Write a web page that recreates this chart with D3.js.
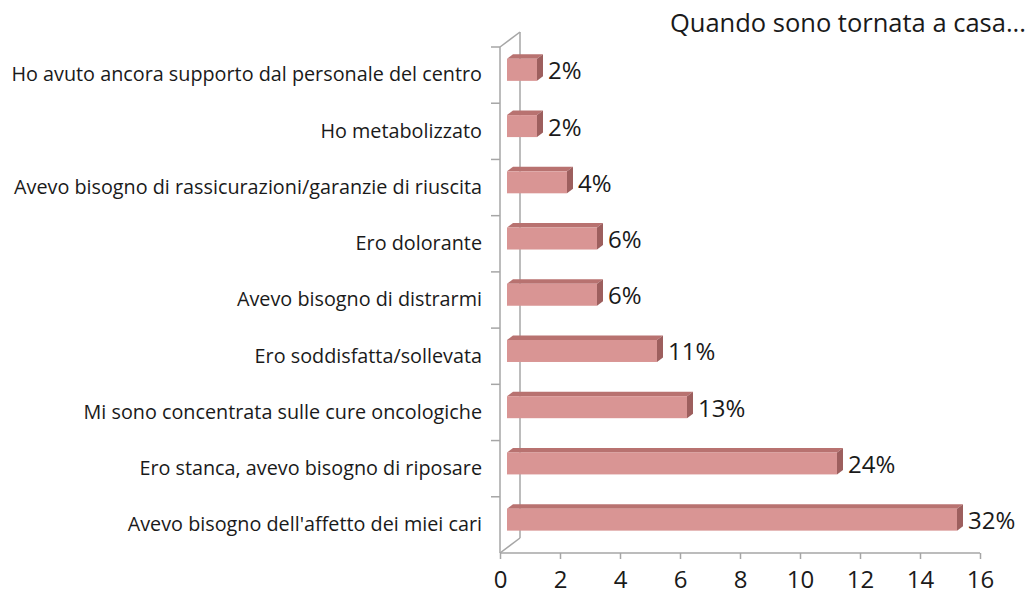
<!DOCTYPE html>
<html>
	<head>
		<meta charset="utf-8">
		<title></title>
		<script src="https://d3js.org/d3.v7.min.js"></script>
		<style>
			body { margin: 0; background: #fff; }
			text { font-family: "Open Sans", "Liberation Sans", sans-serif; fill: #1a1a1a; }
		</style>
	</head>
	<body>
		<div class="main_div"></div>
		<script>

			// Dati
			var categories = ["Ho avuto ancora supporto dal personale del centro", "Ho metabolizzato", "Avevo bisogno di rassicurazioni/garanzie di riuscita", "Ero dolorante", "Avevo bisogno di distrarmi", "Ero soddisfatta/sollevata", "Mi sono concentrata sulle cure oncologiche", "Ero stanca, avevo bisogno di riposare", "Avevo bisogno dell'affetto dei miei cari"];
			var values = [1, 1, 2, 3, 3, 5, 6, 11, 15];
			var percentLabels = ["2%", "2%", "4%", "6%", "6%", "11%", "13%", "24%", "32%"];
			var xTicks = [0, 2, 4, 6, 8, 10, 12, 14, 16];
			var title = "Quando sono tornata a casa...";

			var width = 1032, height = 598;
			var svg = d3.select(".main_div").append("svg")
				.attr("width", width).attr("height", height);

			// Scale
			var xScale = d3.scaleLinear().domain([0, 16]).range([500, 980]);
			var yScale = d3.scaleBand().domain(categories).range([47, 553]);

			// profondita' 3D
			var depthX = 20, depthY = -15;
			function px(v, d) { return xScale(v) + d * depthX; }
			function py(y, d) { return y + d * depthY; }

			var axisColor = "#a6a6a6";

			// pareti (linee)
			var wall = svg.append("g").attr("stroke", axisColor).attr("stroke-width", 1.5).attr("fill", "none");
			wall.append("line").attr("x1", px(0, 1)).attr("y1", py(47, 1)).attr("x2", px(0, 1)).attr("y2", py(553, 1));
			wall.append("line").attr("x1", px(0, 0)).attr("y1", 47).attr("x2", px(0, 1)).attr("y2", py(47, 1));
			wall.append("line").attr("x1", px(0, 0)).attr("y1", 553).attr("x2", px(0, 1)).attr("y2", py(553, 1));

			// barre 3D
			var d0 = 0.35, d1 = 0.65;
			var barH = 22;
			var bars = svg.selectAll("g.bar").data(values).enter().append("g").attr("class", "bar");
			function yTop(i) { return yScale(categories[i]) + yScale.bandwidth() / 2 - barH / 2; }

			// top
			bars.append("path").attr("fill", "#b87270")
				.attr("d", function(d, i) {
					var y = yTop(i);
					return "M" + px(0, d0) + "," + py(y, d0) + "L" + px(d, d0) + "," + py(y, d0) +
						"L" + px(d, d1) + "," + py(y, d1) + "L" + px(0, d1) + "," + py(y, d1) + "Z";
				});
			// lato
			bars.append("path").attr("fill", "#9d5f5e")
				.attr("d", function(d, i) {
					var y = yTop(i);
					return "M" + px(d, d0) + "," + py(y, d0) + "L" + px(d, d1) + "," + py(y, d1) +
						"L" + px(d, d1) + "," + py(y + barH, d1) + "L" + px(d, d0) + "," + py(y + barH, d0) + "Z";
				});
			// fronte
			bars.append("rect").attr("fill", "#d99594")
				.attr("x", function(d) { return px(0, d0); })
				.attr("y", function(d, i) { return py(yTop(i), d0); })
				.attr("width", function(d) { return xScale(d) - xScale(0); })
				.attr("height", barH);

			// etichette valori
			bars.append("text")
				.attr("x", function(d) { return px(d, d1) + 5; })
				.attr("y", function(d, i) { return py(yTop(i) + barH / 2, 0.35) + 3; })
				.attr("dominant-baseline", "middle")
				.style("font-size", "24px")
				.text(function(d, i) { return percentLabels[i]; });

			// assi
			var xAxis = d3.axisBottom(xScale).tickValues(xTicks).tickSize(6).tickPadding(12);
			var xg = svg.append("g").attr("transform", "translate(0,553)").call(xAxis);
			xg.select(".domain").attr("stroke", axisColor).attr("stroke-width", 1.5).attr("d", "M500,0H980");
			xg.selectAll(".tick line").attr("stroke", axisColor).attr("stroke-width", 1.5);
			xg.selectAll(".tick text").style("font-size", "24px").attr("fill", "#1a1a1a");

			var yAxis = d3.axisLeft(yScale).tickSize(0).tickPadding(18);
			var yg = svg.append("g").attr("transform", "translate(500,0)").call(yAxis);
			yg.select(".domain").attr("stroke", axisColor).attr("stroke-width", 1.5).attr("d", "M0,47V553");
			yg.selectAll(".tick text").style("font-size", "19.8px").attr("fill", "#1a1a1a");
			// tacche tra le categorie
			yg.selectAll("line.sep").data(categories).enter().append("line").attr("class", "sep")
				.attr("x1", -9).attr("x2", 0)
				.attr("y1", function(d) { return yScale(d); })
				.attr("y2", function(d) { return yScale(d); })
				.attr("stroke", axisColor).attr("stroke-width", 1.5);

			// titolo
			svg.append("text").attr("x", 1026).attr("y", 32).attr("text-anchor", "end")
				.style("font-size", "25.5px").text(title);

		</script>
	</body>
</html>
